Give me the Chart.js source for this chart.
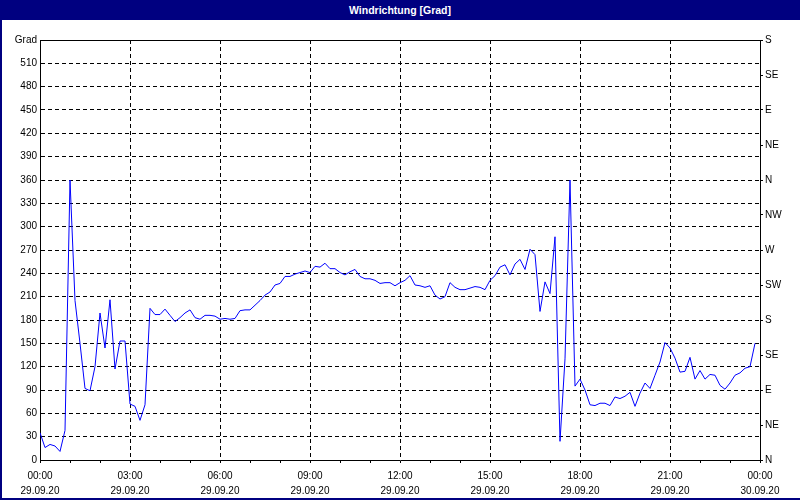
<!DOCTYPE html>
<html>
<head>
<meta charset="utf-8">
<script src="https://cdn.jsdelivr.net/npm/chart.js@4/dist/chart.umd.min.js"></script>
<style>
  html, body { margin: 0; padding: 0; background: #ffffff; }
  #titlebar { width: 800px; height: 20px; background: #000080; color: #ffffff;
    font: bold 10.5px "Liberation Sans", Arial, sans-serif; text-align: center; line-height: 20px; }
  #wrap { width: 800px; height: 480px; position: relative; }
</style>
</head>
<body>
<div id="titlebar">Windrichtung [Grad]</div>
<div id="wrap"><canvas id="c" width="800" height="480"></canvas></div>
<script>
// ---- data (wind direction in degrees, one value every 10 minutes, 29.09.20 00:00 - 23:50) ----
const sampleMinutes = 10;
const windDirection = [
  35, 16, 20, 18, 11, 38, 360, 205, 150, 92, 89, 120,
  189, 144, 206, 117, 153, 153, 72, 69, 51, 71, 195, 187,
  187, 194, 186, 178, 183, 189, 193, 183, 181, 186, 186, 185,
  181, 182, 181, 182, 192, 193, 193, 199, 205, 212, 216, 225,
  227, 236, 236, 239, 241, 243, 241, 249, 248, 253, 246, 246,
  241, 238, 242, 245, 236, 233, 233, 231, 227, 228, 228, 224,
  228, 231, 237, 225, 224, 222, 224, 212, 207, 210, 228, 222,
  219, 219, 221, 223, 222, 219, 231, 237, 248, 251, 238, 252,
  258, 245, 271, 264, 191, 229, 214, 287, 24, 130, 360, 95,
  104, 90, 71, 70, 73, 73, 70, 81, 79, 82, 87, 69,
  86, 99, 92, 109, 126, 151, 144, 131, 113, 114, 132, 104,
  115, 104, 110, 109, 96, 91, 99, 109, 112, 118, 120, 150
];
const timeLabels = ['00:00', '03:00', '06:00', '09:00', '12:00', '15:00', '18:00', '21:00', '00:00'];
const dateLabels = ['29.09.20', '29.09.20', '29.09.20', '29.09.20', '29.09.20', '29.09.20', '29.09.20', '29.09.20', '30.09.20'];
const compassLabels = ['N', 'NE', 'E', 'SE', 'S', 'SW', 'W', 'NW', 'N', 'NE', 'E', 'SE', 'S'];
const leftAxisUnit = 'Grad';

const points = windDirection.map((v, i) => ({ x: i * sampleMinutes, y: v }));
const FONT = { family: '"Liberation Sans", Arial, sans-serif', size: 10 };

const framePlugin = {
  id: 'frame',
  beforeDraw(chart) {
    const ctx = chart.ctx;
    ctx.save();
    ctx.fillStyle = '#000080';
    ctx.fillRect(0, 0, 2, chart.height);
    ctx.fillRect(0, chart.height - 2, chart.width, 2);
    ctx.restore();
  },
  afterDraw(chart) {
    const a = chart.chartArea, ctx = chart.ctx;
    ctx.save();
    ctx.strokeStyle = '#000';
    ctx.lineWidth = 1;
    ctx.beginPath();
    ctx.moveTo(a.left, Math.round(a.top) + 0.5);
    ctx.lineTo(a.right, Math.round(a.top) + 0.5);
    ctx.stroke();
    ctx.restore();
  }
};

new Chart(document.getElementById('c'), {
  type: 'line',
  data: {
    datasets: [{
      data: points,
      borderColor: '#0000ff',
      borderWidth: 1,
      pointRadius: 0,
      tension: 0,
      fill: false,
      yAxisID: 'y'
    }]
  },
  options: {
    responsive: false,
    animation: false,
    layout: { padding: { top: 20, left: 0, right: 0, bottom: 0 } },
    plugins: { legend: { display: false }, tooltip: { enabled: false }, title: { display: false } },
    scales: {
      x: {
        type: 'linear',
        min: 0, max: 1440,
        afterFit(s) { s.height = 40; },
        ticks: {
          stepSize: 60, autoSkip: false, maxRotation: 0, padding: 5,
          color: '#000', font: { ...FONT, lineHeight: 1.55 },
          callback(v) {
            if (v % 180 !== 0) return '';
            const k = v / 180;
            return [timeLabels[k], dateLabels[k]];
          }
        },
        grid: {
          drawTicks: true, tickLength: 3, tickColor: '#000',
          color(c) {
            const v = c.tick && c.tick.value;
            return (v % 180 === 0 && v !== 0 && v !== 1440) ? '#000' : 'rgba(0,0,0,0)';
          },
          lineWidth: 1
        },
        border: { display: true, color: '#000', width: 1, dash: [4, 3] }
      },
      y: {
        position: 'left',
        min: 0, max: 540,
        afterFit(s) { s.width = 40; },
        ticks: {
          stepSize: 30, padding: 3, color: '#000', font: FONT,
          callback(v) { return v === 540 ? leftAxisUnit : String(v); }
        },
        grid: {
          drawTicks: false,
          color(c) {
            const v = c.tick && c.tick.value;
            return (v !== 0 && v !== 540) ? '#000' : 'rgba(0,0,0,0)';
          },
          lineWidth: 1
        },
        border: { display: true, color: '#000', width: 1, dash: [4, 3] }
      },
      y2: {
        position: 'right',
        min: 0, max: 540,
        afterFit(s) { s.width = 40; },
        ticks: {
          stepSize: 45, padding: 2, color: '#000', font: FONT,
          callback(v) { return compassLabels[Math.round(v / 45)]; }
        },
        grid: { drawOnChartArea: false, drawTicks: true, tickLength: 3, tickColor: '#000' },
        border: { display: true, color: '#000', width: 1 }
      }
    }
  },
  plugins: [framePlugin]
});
</script>
</body>
</html>
